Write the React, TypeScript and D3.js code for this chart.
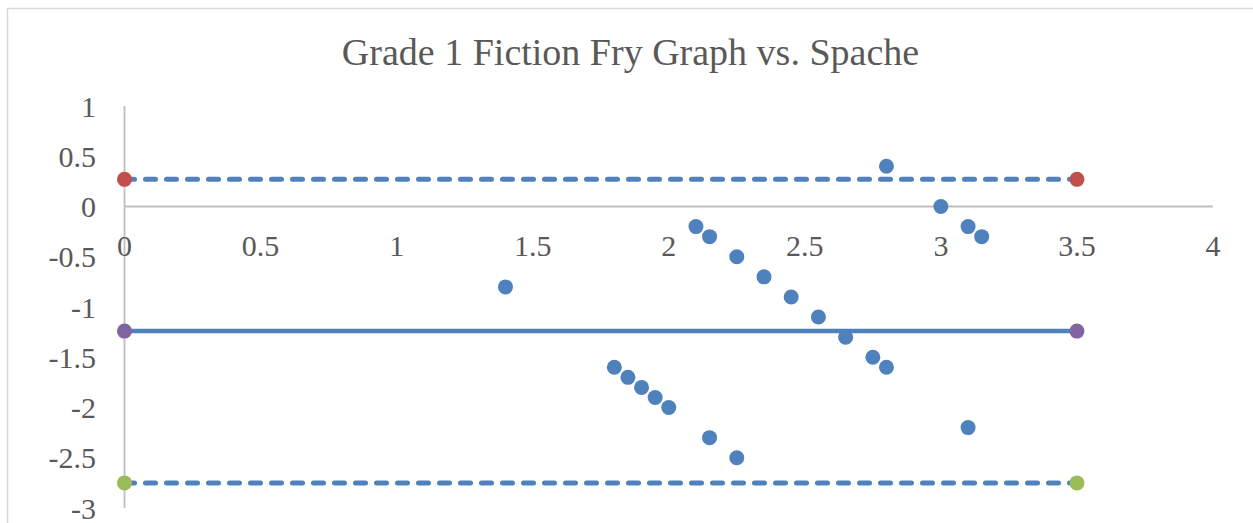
import React from "react";
import * as d3 from "d3";

const title = "Grade 1 Fiction Fry Graph vs. Spache";
const xTicks = [0, 0.5, 1, 1.5, 2, 2.5, 3, 3.5, 4];
const yTicks = [1, 0.5, 0, -0.5, -1, -1.5, -2, -2.5, -3];
const scatterX = [1.4, 1.8, 1.85, 1.9, 1.95, 2.0, 2.1, 2.15, 2.25, 2.35, 2.45, 2.55, 2.65, 2.75, 2.8, 2.8, 3.0, 3.1, 3.15, 3.1, 2.15, 2.25];
const scatterY = [-0.8, -1.6, -1.7, -1.8, -1.9, -2.0, -0.2, -0.3, -0.5, -0.7, -0.9, -1.1, -1.3, -1.5, -1.6, 0.4, 0, -0.2, -0.3, -2.2, -2.3, -2.5];
const lineX = [0, 3.5];
const upperY = 0.27;
const meanY = -1.24;
const lowerY = -2.75;

export default function App() {
  const W = 1253, H = 523;
  const x = d3.scaleLinear().domain([0, 4]).range([124.5, 1213]);
  const y = d3.scaleLinear().domain([-3, 1]).range([508, 106]);
  const blue = "#4f81bd";
  const txt = "#595959";
  const font = "'Liberation Serif', 'Times New Roman', serif";
  const hLine = (v: number) => d3.line<number>().x(d => x(d)).y(() => y(v))(lineX) || "";
  const pts = scatterX.map((v, i) => [v, scatterY[i]]);
  return (
    <svg width={W} height={H} style={{ position: "absolute", left: 0, top: 0, background: "#fff" }}>
      <rect x={7.5} y={8.5} width={W + 20} height={H + 20} fill="#fff" stroke="#d9d9d9" strokeWidth={1.5} />
      <text x={630.5} y={64.5} textAnchor="middle" fontFamily={font} fontSize={38} fill={txt}>{title}</text>
      <line x1={x(0)} x2={x(0)} y1={y(1)} y2={y(-3)} stroke="#bfbfbf" strokeWidth={1.8} />
      <line x1={x(0)} x2={x(4)} y1={y(0)} y2={y(0)} stroke="#bfbfbf" strokeWidth={1.8} />
      {yTicks.map(t => (
        <text key={"y" + t} x={96} y={y(t)} dy="0.35em" textAnchor="end" fontFamily={font} fontSize={30} fill={txt}>{t}</text>
      ))}
      {xTicks.map(t => (
        <text key={"x" + t} x={x(t)} y={y(0) + 39} dy="0.35em" textAnchor="middle" fontFamily={font} fontSize={30} fill={txt}>{t}</text>
      ))}
      <path d={hLine(upperY)} stroke={blue} strokeWidth={5} strokeDasharray="10 11" strokeLinecap="round" fill="none" />
      <path d={hLine(lowerY)} stroke={blue} strokeWidth={5} strokeDasharray="10 11" strokeLinecap="round" fill="none" />
      <path d={hLine(meanY)} stroke={blue} strokeWidth={4.5} fill="none" />
      {lineX.map(v => <circle key={"u" + v} cx={x(v)} cy={y(upperY)} r={7.5} fill="#c0504d" />)}
      {lineX.map(v => <circle key={"m" + v} cx={x(v)} cy={y(meanY)} r={7.5} fill="#8064a2" />)}
      {lineX.map(v => <circle key={"l" + v} cx={x(v)} cy={y(lowerY)} r={7.5} fill="#9bbb59" />)}
      {pts.map((p, i) => <circle key={"p" + i} cx={x(p[0])} cy={y(p[1])} r={7.5} fill={blue} />)}
    </svg>
  );
}
